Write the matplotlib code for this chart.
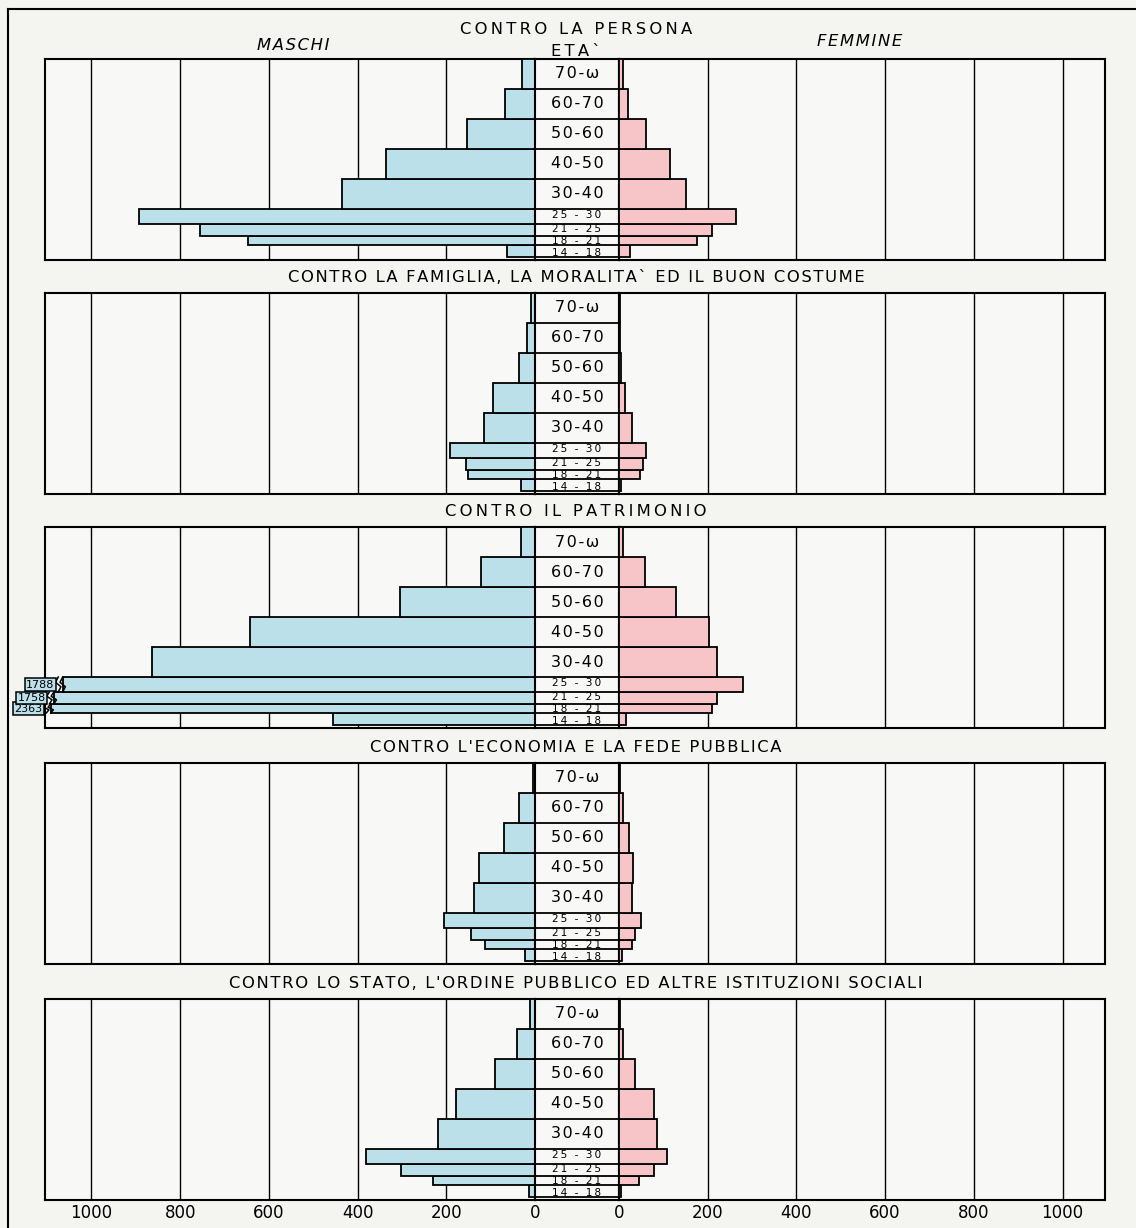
import matplotlib
matplotlib.use("Agg")
import matplotlib.pyplot as plt
from matplotlib.lines import Line2D
import numpy as np

plt.rcParams['font.family'] = ['DejaVu Sans']

# ---------------- data ----------------
AGE_LABELS = ['14-18', '18-21', '21-25', '25-30', '30-40', '40-50', '50-60', '60-70', '70-ω']
AGE_EDGES = [14, 18, 21, 25, 30, 40, 50, 60, 70, 80]

PANEL_TITLES = [
    "CONTRO LA PERSONA",
    "CONTRO LA FAMIGLIA, LA MORALITA` ED IL BUON COSTUME",
    "CONTRO IL PATRIMONIO",
    "CONTRO L'ECONOMIA E LA FEDE PUBBLICA",
    "CONTRO LO STATO, L'ORDINE PUBBLICO ED ALTRE ISTITUZIONI SOCIALI",
]

MALE_PERSONA = [63, 647, 755, 893, 436, 335, 153, 67, 30]
FEMALE_PERSONA = [25, 175, 210, 263, 150, 116, 61, 20, 8]

MALE_FAMIGLIA = [32, 152, 156, 191, 116, 95, 36, 18, 8]
FEMALE_FAMIGLIA = [5, 48, 55, 60, 29, 14, 5, 3, 2]

MALE_PATRIMONIO = [455, 2363, 1758, 1788, 864, 642, 304, 121, 31]
FEMALE_PATRIMONIO = [16, 210, 220, 280, 220, 203, 129, 58, 9]

MALE_ECONOMIA = [23, 113, 145, 205, 137, 126, 70, 35, 5]
FEMALE_ECONOMIA = [6, 29, 36, 49, 29, 32, 22, 9, 3]

MALE_STATO = [13, 230, 302, 382, 219, 178, 90, 40, 12]
FEMALE_STATO = [4, 46, 80, 108, 85, 80, 36, 8, 2]

MALES = [MALE_PERSONA, MALE_FAMIGLIA, MALE_PATRIMONIO, MALE_ECONOMIA, MALE_STATO]
FEMALES = [FEMALE_PERSONA, FEMALE_FAMIGLIA, FEMALE_PATRIMONIO, FEMALE_ECONOMIA, FEMALE_STATO]

TICKS = [0, 200, 400, 600, 800, 1000]
GRID = [200, 400, 600, 800, 1000]

# ---------------- style / layout ----------------
W, H = 1136, 1228
BG = '#f4f4f1'
BLUE = '#bce0e9'
PINK = '#f7c5c8'
PANEL_TOPS = [59, 293, 527, 763, 999]
PANEL_H = 201
X_FRAME_L, X_CENTER_L, X_CENTER_R, X_FRAME_R = 45, 535, 619, 1105
PX_PER_UNIT = 0.4435
BREAK_LIMIT = 1000
BREAK_CAPS = {'25-30': 1065, '21-25': 1085, '18-21': 1092}
X_MID = 576
TITLE_GAPS = [2, 1, 2, 1, 1]
TITLE_SIZE = 11.8
# vertical nudge (in years) of the labels of the narrow age rows
SMALL_LABEL_NUDGE = {'14-18': -0.6, '18-21': 0.0, '21-25': 0.3, '25-30': 0.6}

HS = '\u200a'


def spaced(s, n=1):
    return (HS * n).join(s)


def fx(px):
    return px / W


def fy(py):
    return 1 - py / H


fig = plt.figure(figsize=(W / 100, H / 100), dpi=100, facecolor=BG)

edges = np.array(AGE_EDGES, dtype=float)
heights = np.diff(edges)
ylim = (13.0, 80.0)

for p in range(5):
    top = PANEL_TOPS[p]
    bot = top + PANEL_H
    y0f = fy(bot)
    hf = PANEL_H / H
    axL = fig.add_axes([fx(X_FRAME_L), y0f, fx(X_CENTER_L) - fx(X_FRAME_L), hf])
    axC = fig.add_axes([fx(X_CENTER_L), y0f, fx(X_CENTER_R) - fx(X_CENTER_L), hf])
    axR = fig.add_axes([fx(X_CENTER_R), y0f, fx(X_FRAME_R) - fx(X_CENTER_R), hf])

    left_lim = (X_CENTER_L - X_FRAME_L) / PX_PER_UNIT
    right_lim = (X_FRAME_R - X_CENTER_R) / PX_PER_UNIT
    axL.set_xlim(left_lim, 0)
    axR.set_xlim(0, right_lim)
    axC.set_xlim(0, 1)
    for ax in (axL, axC, axR):
        ax.set_ylim(*ylim)
        ax.set_facecolor('#f8f8f6')
        ax.set_yticks([])
        for s in ax.spines.values():
            s.set_linewidth(1.5)
            s.set_color('black')

    for g in GRID:
        axL.axvline(g, color='black', lw=1.0, zorder=1)
        axR.axvline(g, color='black', lw=1.0, zorder=1)

    male = MALES[p]
    female = FEMALES[p]
    disp_male = []
    for i, v in enumerate(male):
        if v > BREAK_LIMIT:
            disp_male.append(BREAK_CAPS[AGE_LABELS[i]])
        else:
            disp_male.append(v)

    axL.barh(edges[:-1], disp_male, height=heights, align='edge',
             color=BLUE, edgecolor='black', linewidth=1.3, zorder=3)
    axR.barh(edges[:-1], female, height=heights, align='edge',
             color=PINK, edgecolor='black', linewidth=1.3, zorder=3)

    # broken bars
    for i, v in enumerate(male):
        if v > BREAK_LIMIT:
            cap = BREAK_CAPS[AGE_LABELS[i]]
            yb = edges[i]
            h = heights[i]
            for off in (0, 10):
                xs = [cap + off, cap + off - 6, cap + off + 6, cap + off]
                ys = [yb, yb + h * 0.35, yb + h * 0.65, yb + h]
                axL.plot(xs, ys, color='black', lw=1.1, zorder=5, clip_on=False)
            axL.text(cap + 18, yb + h / 2, str(v), ha='right', va='center',
                     fontsize=8, zorder=6, clip_on=False,
                     bbox=dict(boxstyle='square,pad=0.1', facecolor=BLUE,
                               edgecolor='black', linewidth=1.1))

    # center column
    axC.hlines(edges[:-1], 0, 1, color='black', lw=1.3, zorder=3)
    axC.set_xticks([])
    for i, lab in enumerate(AGE_LABELS):
        ym = (edges[i] + edges[i + 1]) / 2
        big = heights[i] >= 10
        if big:
            txt = spaced(lab)
            size = 11.5
        else:
            txt = spaced(lab.replace('-', ' - '), 2)
            size = 7.6
            ym += SMALL_LABEL_NUDGE[lab]
        axC.text(0.5, ym, txt, ha='center', va='center', fontsize=size, zorder=4)

    if p < 4:
        axL.set_xticks([])
        axR.set_xticks([])
    else:
        axL.set_xticks(TICKS)
        axL.set_xticklabels([str(t) for t in TICKS], fontsize=12)
        axR.set_xticks(TICKS)
        axR.set_xticklabels([str(t) for t in TICKS], fontsize=12)
        for ax in (axL, axR):
            ax.tick_params(axis='x', length=0, pad=3)

    # panel title
    fig.text(fx(X_MID), fy(top - 15 if p > 0 else top - 29),
             spaced(PANEL_TITLES[p], TITLE_GAPS[p]),
             ha='center', va='center', fontsize=TITLE_SIZE)

# header texts of first panel
fig.text(fx(X_MID), fy(51), spaced("ETA`", 2), ha='center', va='center', fontsize=TITLE_SIZE)
fig.text(fx(293), fy(46), spaced("MASCHI"), ha='center', va='center', fontsize=TITLE_SIZE, style='italic')
fig.text(fx(860), fy(42), spaced("FEMMINE"), ha='center', va='center', fontsize=TITLE_SIZE, style='italic')

# outer border (top and left)
fig.add_artist(Line2D([fx(8), 1.0], [fy(9), fy(9)], color='black', lw=1.5))
fig.add_artist(Line2D([fx(8), fx(8)], [fy(9), 0.0], color='black', lw=1.5))

fig.savefig('out.png', dpi=100, facecolor=BG)
